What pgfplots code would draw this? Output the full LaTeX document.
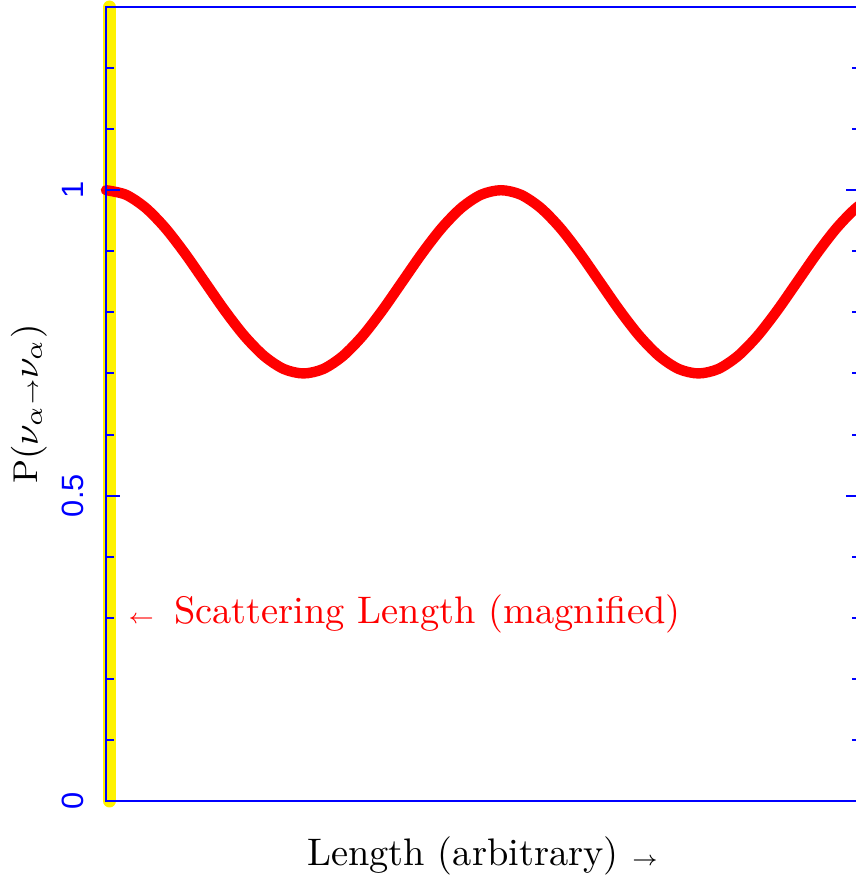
\documentclass[border=0pt]{standalone}
\usepackage{fontspec}
\usepackage{pgfplots}
\pgfplotsset{compat=1.18}
\newfontfamily\ticksf{Liberation Sans}
\begin{document}
\begin{tikzpicture}
\begin{axis}[
  at={(26.5pt,18.5pt)}, anchor=south west,
  scale only axis, width=188.5pt, height=198.5pt,
  xmin=0, xmax=1.909, ymin=0, ymax=1.3,
  clip=false, axis on top,
  axis line style={blue, line width=0.6pt},
  xtick=\empty,
  ytick={0,0.5,1},
  minor ytick={0.1,0.2,0.3,0.4,0.6,0.7,0.8,0.9,1.1,1.2},
  ytick pos=both, yticklabel pos=left,
  tick align=inside,
  major tick length=3.5pt, minor tick length=2pt,
  every tick/.style={blue, line width=0.5pt},
  /pgf/number format/assume math mode=true,
  yticklabel style={rotate=90, anchor=base, inner sep=0pt, text=blue,
    font=\ticksf\fontsize{7.7}{9}\selectfont},
  yticklabel shift=5.5pt,
  xlabel={Length (arbitrary) $\scriptscriptstyle\rightarrow$},
  xlabel style={at={(axis description cs:0.5,0)}, anchor=base, inner sep=0pt,
    yshift=-16.25pt, font=\fontsize{9.6}{11}\selectfont},
  ylabel={P$(\nu_\alpha{\scriptscriptstyle\rightarrow}\nu_\alpha)$},
  ylabel style={at={(axis description cs:-0.0902,0.5)}, rotate=0, anchor=base, inner sep=0pt,
    font=\fontsize{8.6}{10}\selectfont},
]
\addplot[yellow, line width=3.25pt, line cap=round] coordinates {(0.0089,0) (0.0089,1.3)};
\addplot[red, line width=2.6pt, line cap=round, smooth] coordinates {
(0,1.0) (0.05,0.9927) (0.10,0.9713) (0.15,0.9382) (0.20,0.8964) (0.25,0.85)
(0.30,0.8036) (0.35,0.7618) (0.40,0.7287) (0.45,0.7073) (0.50,0.70)
(0.55,0.7073) (0.60,0.7287) (0.65,0.7618) (0.70,0.8036) (0.75,0.85)
(0.80,0.8964) (0.85,0.9382) (0.90,0.9713) (0.95,0.9927) (1.00,1.0)
(1.05,0.9927) (1.10,0.9713) (1.15,0.9382) (1.20,0.8964) (1.25,0.85)
(1.30,0.8036) (1.35,0.7618) (1.40,0.7287) (1.45,0.7073) (1.50,0.70)
(1.55,0.7073) (1.60,0.7287) (1.65,0.7618) (1.70,0.8036) (1.75,0.85)
(1.80,0.8964) (1.85,0.9382) (1.90,0.9713) (1.95,0.9927)};
\node[anchor=base west, inner sep=0pt, text=red, font=\fontsize{9.6}{11}\selectfont]
  at (axis cs:0.053,0.291) {$\scriptscriptstyle\leftarrow$\hspace{0.5em}Scattering Length (magnified)};
\end{axis}
\pgfresetboundingbox
\path[use as bounding box] (0,0) rectangle (213.75pt,218.75pt);
\end{tikzpicture}
\end{document}
